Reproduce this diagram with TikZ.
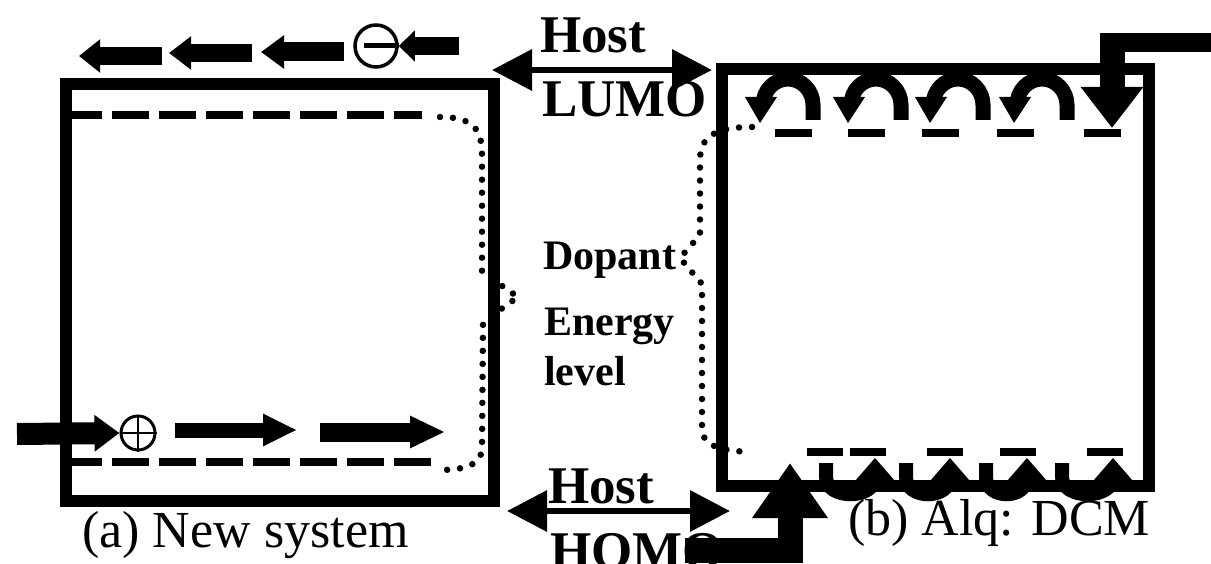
\documentclass[tikz,border=0pt]{standalone}
\usepackage{fontspec}
\setmainfont{Liberation Serif}
\usetikzlibrary{arrows.meta}
\begin{document}
\begin{tikzpicture}[x=1pt,y=-1pt,
  wall/.style={line width=11.5pt},
  dashln/.style={line width=8pt, dash pattern=on 37pt off 10pt},
  dotln/.style={line width=6.5pt, line cap=round, dash pattern=on 0pt off 13pt},
  lbl/.style={anchor=base west, inner sep=0pt},
  bigbold/.style={font=\bfseries\fontsize{53}{60}\selectfont},
  midbold/.style={font=\bfseries\fontsize{42}{48}\selectfont},
  caption/.style={font=\fontsize{52}{58}\selectfont},
  hop/.style={line width=15pt},
  dbl/.style={line width=6.5pt, {Triangle[length=40pt,width=40pt]}-{Triangle[length=40pt,width=40pt]}}
]
\useasboundingbox (0,0) rectangle (1211,564);
\fill[white] (0,0) rectangle (1211,564);

% ---------- texts ----------
\node[lbl,bigbold] (hostT) at (540,53) {Host};
\node[lbl,bigbold] (lumo) at (542,117) {LUMO};
\node[lbl,midbold] (dop) at (543,270) {Dopant};
\node[lbl,midbold] (ene) at (544,335) {Energy};
\node[lbl,midbold] (lev) at (544,385) {level};
\node[lbl,bigbold] (hostB) at (548,503) {Host};
\node[lbl,bigbold] (homo) at (550,568) {HOMO};
\node[lbl,caption] (capa) at (82,547) {(a) New system};
\node[lbl,caption] (capb) at (848,535) {(b) Alq: DCM};

% ---------- coordinates ----------
\coordinate (lumoL) at (492,70);
\coordinate (lumoR) at (712,70);
\coordinate (homoL) at (507,511);
\coordinate (homoR) at (730,511);

% ---------- dashed dopant levels (left box) ----------
\draw[dashln] (65,115) -- (422,115);
\draw[dashln] (65,462) -- (435,462);

% ---------- dashed levels (right box) ----------
\foreach \a in {775,848,922,997,1084} \draw[line width=8pt] (\a,133) -- ++(37,0);
\foreach \a in {807,850,927,1000,1087} \draw[line width=8pt] (\a,452) -- ++(36,0);

% ---------- dotted dopant level outlines ----------
\draw[dotln] (440,117) .. controls (474,117) and (482,130) .. (482,155)
  -- (482,272) -- (518,297) -- (483,322) -- (482,448)
  .. controls (482,464) and (466,470) .. (440,470);
\draw[dotln] (752,127) .. controls (716,127) and (700,136) .. (700,160)
  -- (700,235) -- (680,258) -- (702,284) -- (702,428)
  .. controls (702,446) and (720,451) .. (752,452);

% ---------- boxes ----------
\draw[wall] (66,84) rectangle (494,501);
\draw[wall] (722,69) rectangle (1149,486);

% ---------- electrons (top left, moving left) ----------
\draw[line width=18pt,-{Triangle[length=21pt,width=32pt]}] (162,56) -- (79,56);
\draw[line width=18pt,-{Triangle[length=22pt,width=32pt]}] (252,53) -- (169,53);
\draw[line width=19pt,-{Triangle[length=23pt,width=32pt]}] (344,52) -- (261,52);
\node[circle,draw,line width=3.5pt,minimum size=42pt,inner sep=0pt] (eminus) at (376,46) {};
\draw[line width=5pt] (364,46) -- (eminus.east);
\draw[line width=18pt,-{Triangle[length=16pt,width=30pt]}] (459,46) -- (eminus.east);

% ---------- holes (bottom left, moving right) ----------
\node[circle,draw,line width=3pt,minimum size=34pt,inner sep=0pt] (hplus) at (138,433) {};
\draw[line width=2.5pt] (hplus.west) -- (hplus.east) (hplus.north) -- (hplus.south);
\draw[line width=22pt,-{Triangle[length=25pt,width=35pt]}] (17,434) -- (hplus.west);
\draw[line width=15pt,-{Triangle[length=34pt,width=30pt]}] (175,430) -- (297,430);
\draw[line width=19pt,-{Triangle[length=35pt,width=30pt]}] (320,432) -- (445,432);

% ---------- host level double arrows ----------
\draw[dbl] (lumoL) -- (lumoR);
\draw[dbl] (homoL) -- (homoR);

% ---------- electron hopping (right box top) ----------
\foreach \t in {760,848,930,1014} {
  \draw[hop] (\t+53,120) -- (\t+53,105) arc[start angle=0,end angle=180,x radius=25pt,y radius=26pt];
  \fill (\t-15,97) -- (\t+17,97) -- (\t,123) -- cycle;
}
\fill (1100,33) rectangle (1211,52);
\draw[line width=25pt,-{Triangle[length=41pt,width=60pt]}] (1112,33) -- (1112,128);

% ---------- hole hopping (right box bottom) ----------
\foreach \s/\t in {826/875,906/950,986/1027,1062/1113} {
  \draw[line width=14pt] (\s,463) -- (\s,477) .. controls (\s,500) and (\t,500) .. (\t,477) -- (\t,470);
  \fill (\t-20,481) -- (\t+20,481) -- (\t,458) -- cycle;
}
\draw[line width=25pt,-{Triangle[length=55pt,width=72pt]}] (685,550) -- (790,550) -- (790,463);
\end{tikzpicture}
\end{document}
